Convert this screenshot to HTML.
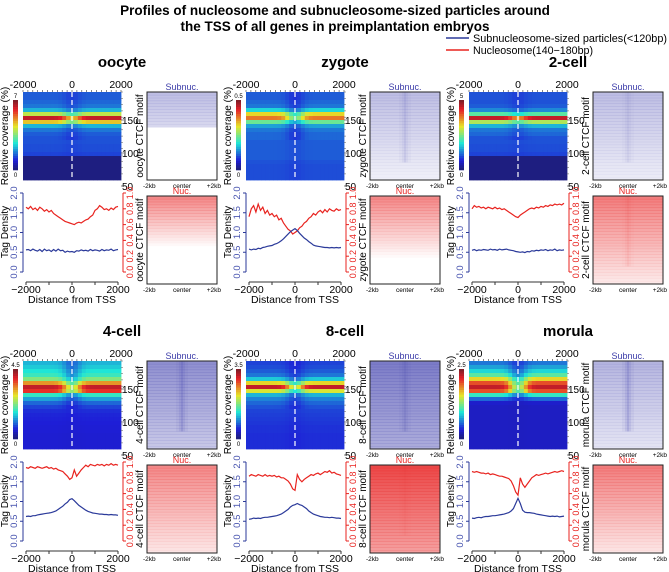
<!DOCTYPE html>
<html><head><meta charset="utf-8">
<style>
html,body{margin:0;padding:0;background:#fff;}
svg{display:block;font-family:"Liberation Sans",sans-serif;}
</style></head>
<body>
<svg id="fig" width="669" height="572" viewBox="0 0 669 572">
<text x="335" y="15" text-anchor="middle" font-size="13.5" font-weight="bold">Profiles of nucleosome and subnucleosome-sized particles around</text>
<text x="335" y="31" text-anchor="middle" font-size="13.5" font-weight="bold">the TSS of all genes in preimplantation embryos</text>
<g>
<line x1="446" y1="38" x2="469" y2="38" stroke="#2b3a9a" stroke-width="1.5"/>
<text x="473" y="42" font-size="11" textLength="194" lengthAdjust="spacingAndGlyphs">Subnucleosome-sized particles(&lt;120bp)</text>
<line x1="446" y1="50" x2="469" y2="50" stroke="#e8231f" stroke-width="1.5"/>
<text x="473" y="54" font-size="11" textLength="120" lengthAdjust="spacingAndGlyphs">Nucleosome(140−180bp)</text>
</g>
</svg>
<script>
// ---- data ----
const stages = ["oocyte","zygote","2-cell","4-cell","8-cell","morula"];
const cbarMax = ["7","0.5","5","4.5","3.5","2.5"];
const positions = [-2000,-1900,-1800,-1700,-1600,-1500,-1400,-1300,-1200,-1100,-1000,-900,-800,-700,-600,-500,-400,-300,-200,-100,0,100,200,300,400,500,600,700,800,900,1000,1100,1200,1300,1400,1500,1600,1700,1800,1900,2000];
const nucOocyte = [0.82,0.80,0.83,0.79,0.81,0.78,0.82,0.80,0.77,0.79,0.76,0.78,0.74,0.72,0.70,0.68,0.66,0.64,0.63,0.62,0.61,0.60,0.62,0.63,0.62,0.64,0.66,0.67,0.70,0.72,0.78,0.80,0.84,0.82,0.79,0.80,0.78,0.81,0.79,0.82,0.83];
const subOocyte = [0.56,0.57,0.54,0.58,0.55,0.53,0.57,0.52,0.58,0.54,0.56,0.52,0.57,0.53,0.58,0.54,0.55,0.50,0.53,0.51,0.52,0.50,0.54,0.53,0.56,0.54,0.55,0.53,0.57,0.54,0.56,0.55,0.53,0.57,0.54,0.56,0.55,0.58,0.54,0.56,0.57];
const nucZygote = [0.70,0.80,0.84,0.76,0.86,0.78,0.82,0.74,0.78,0.72,0.74,0.70,0.72,0.66,0.68,0.62,0.58,0.54,0.52,0.48,0.50,0.52,0.56,0.58,0.62,0.64,0.68,0.70,0.74,0.72,0.76,0.78,0.75,0.79,0.76,0.80,0.78,0.77,0.80,0.78,0.79];
const subZygote = [0.58,0.56,0.58,0.57,0.60,0.59,0.62,0.63,0.65,0.66,0.67,0.70,0.72,0.75,0.79,0.84,0.90,0.96,1.02,1.06,1.10,1.05,0.98,0.92,0.86,0.82,0.77,0.73,0.68,0.66,0.65,0.64,0.63,0.62,0.62,0.61,0.62,0.61,0.62,0.61,0.62];
const nuc2cell = [0.80,0.84,0.82,0.83,0.81,0.82,0.80,0.82,0.81,0.80,0.82,0.80,0.81,0.79,0.80,0.78,0.76,0.74,0.72,0.70,0.69,0.72,0.74,0.76,0.78,0.80,0.81,0.80,0.82,0.81,0.83,0.82,0.84,0.83,0.85,0.84,0.86,0.85,0.86,0.85,0.87];
const sub2cell = [0.55,0.57,0.54,0.56,0.55,0.57,0.56,0.55,0.58,0.56,0.57,0.55,0.58,0.56,0.57,0.58,0.56,0.55,0.54,0.52,0.51,0.50,0.51,0.49,0.52,0.51,0.54,0.53,0.55,0.54,0.56,0.55,0.57,0.54,0.56,0.55,0.58,0.54,0.56,0.55,0.56];
const nuc4cell = [0.93,0.92,0.94,0.93,0.92,0.94,0.93,0.92,0.93,0.94,0.92,0.93,0.91,0.92,0.90,0.89,0.88,0.85,0.82,0.78,0.80,0.90,0.82,0.86,0.90,0.93,0.96,0.94,0.97,0.96,0.95,0.97,0.96,0.97,0.95,0.97,0.96,0.98,0.96,0.97,0.96];
const sub4cell = [0.62,0.63,0.62,0.64,0.64,0.66,0.67,0.68,0.69,0.70,0.71,0.72,0.74,0.76,0.80,0.84,0.88,0.94,0.98,1.05,1.07,1.02,0.96,0.90,0.86,0.82,0.78,0.75,0.73,0.71,0.70,0.69,0.68,0.68,0.67,0.67,0.66,0.67,0.66,0.66,0.65];
const nuc8cell = [0.82,0.84,0.83,0.82,0.84,0.83,0.82,0.84,0.82,0.83,0.82,0.83,0.81,0.82,0.80,0.80,0.78,0.76,0.72,0.66,0.64,0.84,0.78,0.75,0.78,0.80,0.82,0.84,0.83,0.85,0.86,0.84,0.86,0.88,0.87,0.89,0.86,0.87,0.85,0.84,0.83];
const sub8cell = [0.55,0.56,0.58,0.57,0.58,0.57,0.59,0.60,0.60,0.61,0.62,0.63,0.64,0.66,0.68,0.72,0.76,0.80,0.86,0.90,0.92,0.95,0.92,0.90,0.86,0.82,0.76,0.72,0.68,0.66,0.64,0.62,0.61,0.60,0.60,0.59,0.60,0.59,0.58,0.58,0.57];
const nucMorula = [0.88,0.87,0.88,0.87,0.86,0.86,0.85,0.86,0.84,0.85,0.84,0.83,0.82,0.82,0.81,0.80,0.79,0.76,0.70,0.62,0.58,0.80,0.72,0.68,0.72,0.76,0.80,0.82,0.84,0.83,0.84,0.85,0.86,0.85,0.86,0.87,0.88,0.87,0.88,0.89,0.88];
const subMorula = [0.58,0.57,0.59,0.60,0.59,0.61,0.62,0.62,0.63,0.64,0.64,0.65,0.66,0.67,0.68,0.70,0.72,0.76,0.82,0.95,1.08,0.95,0.78,0.73,0.72,0.72,0.71,0.70,0.68,0.67,0.66,0.65,0.64,0.63,0.62,0.63,0.62,0.63,0.61,0.62,0.63];
const nucSeries = [nucOocyte,nucZygote,nuc2cell,nuc4cell,nuc8cell,nucMorula];
const subSeries = [subOocyte,subZygote,sub2cell,sub4cell,sub8cell,subMorula];
// heatmap row profiles (fragment length 192bp top -> 50bp bottom), relative coverage 0..1
const rowsOocyte = [0.3,0.3,0.32,0.35,0.45,0.72,1.0,0.8,0.45,0.35,0.3,0.28,0.28,0.27,0.27,0.25,0,0,0,0,0,0];
const rowsZygote = [0.3,0.3,0.32,0.35,0.5,0.78,0.88,0.62,0.42,0.35,0.32,0.32,0.3,0.3,0.3,0.3,0.3,0.28,0.27,0.27,0.27,0.27];
const rows2cell = [0.28,0.28,0.28,0.3,0.38,0.6,1.0,0.7,0.45,0.35,0.32,0.28,0.28,0.27,0.27,0.25,0,0,0,0,0,0];
const rows4cell = [0.45,0.48,0.52,0.56,0.65,0.85,1.0,0.95,0.55,0.42,0.32,0.25,0.2,0.18,0.17,0.16,0.15,0.15,0.14,0.14,0.14,0.14];
const rows8cell = [0.25,0.27,0.3,0.35,0.48,0.78,1.0,0.75,0.45,0.37,0.32,0.28,0.25,0.24,0.23,0.22,0.21,0.21,0.2,0.2,0.2,0.2];
const rowsMorula = [0.35,0.42,0.5,0.6,0.78,0.92,1.0,0.92,0.55,0.32,0.12,0.08,0.08,0.08,0.08,0.08,0.08,0.08,0.08,0.08,0.08,0.08];
const rowProfiles = [rowsOocyte,rowsZygote,rows2cell,rows4cell,rows8cell,rowsMorula];
const centerDip = [0.2,0.3,0.15,0.3,0.3,0.35];
const subnucTop = [0.35,0.35,0.35,0.6,0.7,0.4];
const subnucBottom = [0.0,0.08,0.1,0.3,0.45,0.15];
const nucTop = [0.55,0.55,0.6,0.55,0.85,0.6];
const nucBottom = [0.0,0.0,0.1,0.12,0.45,0.12];

// ---- helpers ----
const NS="http://www.w3.org/2000/svg";
const svg=document.getElementById('fig');
function mk(tag,attrs,parent){const e=document.createElementNS(NS,tag);for(const k in attrs)e.setAttribute(k,attrs[k]);(parent||svg).appendChild(e);return e;}
function jet(t){t=Math.max(0,Math.min(1,t));const c=v=>Math.round(30+200*Math.max(0,Math.min(1,v)));return `rgb(${c(1.5-Math.abs(4*t-3))},${c(1.5-Math.abs(4*t-2))},${Math.round(40+175*Math.max(0,Math.min(1,1.5-Math.abs(4*t-1))))})`;}
function valT(v){return v<0.05?0.0:0.08+0.84*Math.pow(v,1.6);}
const HX0=23,HX1=121,HY0=92,HY1=180;
const LX0=26,LX1=118,LY0=193,LY1=272;
function xs(v){return LX0+(v+2000)/4000*(LX1-LX0);}
function ysL(v){return LY1-v/2*(LY1-LY0);}
function ysR(v){return LY1-v*(LY1-LY0);}
function lenY(l){return 120-(l-150)*0.66;}

const offX=[0,223,446], offY=[0,269];
stages.forEach((st,i)=>{
  const ox=offX[i%3], oy=offY[Math.floor(i/3)];
  const g=mk('g',{transform:`translate(${ox},${oy})`});
  
  
  const t=mk('text',{x:122,y:67,'text-anchor':'middle','font-size':15,'font-weight':'bold'},g);t.textContent=st;
  
  
  // fragment-length heatmap
  const hm=mk('g',{},g);
  
  
  const rows=rowProfiles[i], nR=rows.length, nC=25;
  const rh=(HY1-HY0)/nR, cw=(HX1-HX0)/nC;
  for(let r=0;r<nR;r++)for(let c=0;c<nC;c++){
    const xv=-2000+(c+0.5)*4000/nC;
    const f=1-centerDip[i]*Math.exp(-Math.pow(xv/350,2))*(r<12?1:0.3);
    const cell=mk('rect',{x:HX0+c*cw,y:HY0+r*rh,width:cw+0.4,height:rh+0.4,fill:jet(valT(rows[r]*f))},hm);
    
    
  }
  const dl=mk('line',{x1:72,y1:HY0,x2:72,y2:HY1,stroke:'#fff','stroke-width':1.2,'stroke-dasharray':'5,3'},g);
  
  
  // top ticks
  for(let k=0;k<=20;k++){const x=HX0+k*(HX1-HX0)/20;const tk=mk('line',{x1:x,y1:HY0,x2:x,y2:HY0-2,stroke:'#333','stroke-width':0.6},g);}
  [["-2000",HX0],["0",72],["2000",HX1]].forEach(([s,x])=>{const tl=mk('text',{x:x,y:88,'text-anchor':'middle','font-size':10.5},g);tl.textContent=s;});
  [150,100,50].forEach(l=>{const y=lenY(l);const tk=mk('line',{x1:HX1,y1:y,x2:HX1+3,y2:y,stroke:'#333','stroke-width':0.6},g);const tl=mk('text',{x:HX1+1,y:y+4,'font-size':10},g);tl.textContent=l;});
  for(let k=0;k<14;k++){const y=HY0+k*6.3;const tk=mk('line',{x1:HX1,y1:y,x2:HX1+2,y2:y,stroke:'#555','stroke-width':0.5},g);}
  // colorbar
  for(let k=0;k<30;k++){const cb=mk('rect',{x:13,y:100+k*70/30,width:5,height:70/30+0.3,fill:jet(1-k/29)},g);}
  const cmax=mk('text',{x:15.5,y:98,'text-anchor':'middle','font-size':6},g);cmax.textContent=cbarMax[i];
  const cmin=mk('text',{x:15.5,y:177,'text-anchor':'middle','font-size':6},g);cmin.textContent='0';
  const rc=mk('text',{x:0,y:0,'text-anchor':'middle','font-size':10,transform:'translate(8,136) rotate(-90)'},g);rc.textContent='Relative coverage (%)';
  // CTCF heatmaps
  function ctcf(y0,y1,top,bot,rgb,center,label,lcol,name){
    const n=30,h=(y1-y0)/n;
    const gg=mk('g',{},g);
    for(let k=0;k<n;k++){let a=top+(bot-top)*k/(n-1);if(i===0&&name==='subnuc-ctcf-heatmap'&&k>11)a=0;if(i===0&&name==='nuc-ctcf-heatmap')a=Math.max(0,top*(1-k/17));if(i===1&&name==='nuc-ctcf-heatmap')a=Math.max(0,top*(1-k/21));
      const b=mk('rect',{x:147,y:y0+k*h,width:70,height:h+0.3,fill:rgb,'fill-opacity':a},gg);}
    if(center>0){[[176,12,0.4],[179,6,0.7],[181,2,1]].forEach(([x,w,m])=>{const s=mk('rect',{x:x,y:y0,width:w,height:(y1-y0)*0.8,fill:rgb,'fill-opacity':center*m},gg);});}
    const br=mk('rect',{x:147,y:y0,width:70,height:y1-y0,fill:'none',stroke:'#222','stroke-width':1},gg);
    const lt=mk('text',{x:182,y:y0-2,'text-anchor':'middle','font-size':9,fill:lcol},g);lt.textContent=label;
    [["-2kb",147,'start'],["center",182,'middle'],["+2kb",217,'end']].forEach(([s,x,a])=>{const tl=mk('text',{x:x-(a==='start'?4:a==='end'?-4:0),y:y1+8,'text-anchor':a,'font-size':6.5},g);tl.textContent=s;});
  }
  ctcf(92,180,subnucTop[i],subnucBottom[i],'rgb(70,70,175)',[0,0.08,0.05,0.15,0.12,0.15][i],'Subnuc.','#3b3ba8','subnuc-ctcf-heatmap');
  ctcf(196,284,nucTop[i],nucBottom[i],'rgb(232,40,40)',[0,0,0.05,0,0.03,0][i],'Nuc.','#e8231f','nuc-ctcf-heatmap');
  const cm=mk('text',{x:0,y:0,'text-anchor':'middle','font-size':10,transform:'translate(143,136) rotate(-90)'},g);cm.textContent=st+' CTCF motif';
  const cm2=mk('text',{x:0,y:0,'text-anchor':'middle','font-size':10,transform:'translate(143,240) rotate(-90)'},g);cm2.textContent=st+' CTCF motif';
  // line plot axes
  const la=mk('line',{x1:23,y1:LY0,x2:23,y2:LY1,stroke:'#2b3a9a','stroke-width':1},g);
  [0,0.5,1,1.5,2].forEach(v=>{const y=ysL(v);const tk=mk('line',{x1:20,y1:y,x2:23,y2:y,stroke:'#2b3a9a'},g);const tl=mk('text',{x:0,y:0,'text-anchor':'middle','font-size':9.5,fill:'#4a56b0',transform:`translate(17,${y}) rotate(-90)`},g);tl.textContent=v.toFixed(1);});
  const td=mk('text',{x:0,y:0,'text-anchor':'middle','font-size':10,transform:'translate(8,232) rotate(-90)'},g);td.textContent='Tag Density';
  const ra=mk('line',{x1:123,y1:LY0,x2:123,y2:LY1,stroke:'#e8231f','stroke-width':1},g);
  [0,0.2,0.4,0.6,0.8,1].forEach(v=>{const y=ysR(v);const tk=mk('line',{x1:123,y1:y,x2:126,y2:y,stroke:'#e8231f'},g);const tl=mk('text',{x:0,y:0,'text-anchor':'middle','font-size':9,fill:'#e8231f',transform:`translate(133,${y}) rotate(-90)`},g);tl.textContent=v.toFixed(1);});
  const xa=mk('line',{x1:LX0,y1:282,x2:LX1,y2:282,stroke:'#333'},g);
  [-2000,-1000,0,1000,2000].forEach(v=>{const tk=mk('line',{x1:xs(v),y1:282,x2:xs(v),y2:285,stroke:'#333'},g);});
  [-2000,0,2000].forEach(v=>{const tl=mk('text',{x:xs(v),y:293,'text-anchor':'middle','font-size':10.5},g);tl.textContent=v<0?'−2000':String(v);});
  const xt=mk('text',{x:72,y:303,'text-anchor':'middle','font-size':10.5},g);xt.textContent='Distance from TSS';
  // series
  const nd=nucSeries[i].map((v,k)=>(k?'L':'M')+xs(positions[k]).toFixed(1)+','+ysR(v).toFixed(1)).join('');
  const np=mk('path',{d:nd,fill:'none',stroke:'#e8231f','stroke-width':1.2},g);
  const sd=subSeries[i].map((v,k)=>(k?'L':'M')+xs(positions[k]).toFixed(1)+','+ysL(v).toFixed(1)).join('');
  const sp=mk('path',{d:sd,fill:'none',stroke:'#2b3a9a','stroke-width':1.2},g);
});
</script>
</body></html>
